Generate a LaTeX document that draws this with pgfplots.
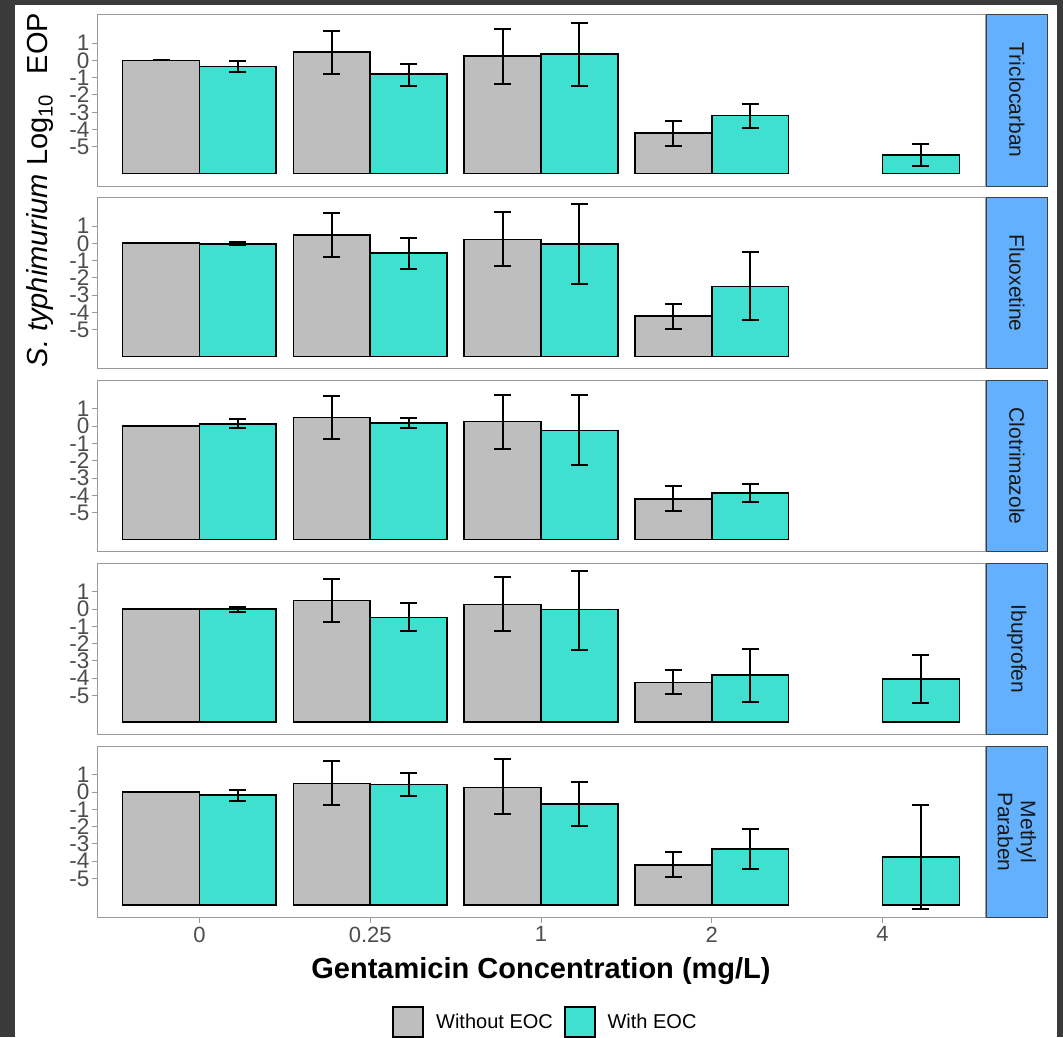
\documentclass[border=0pt]{standalone}
\usepackage{pgfplots}
\pgfplotsset{compat=1.18}
\usepackage{pgfplotstable}
\usepackage{fontspec}
\setmainfont{Liberation Sans}
\definecolor{barGrey}{HTML}{BEBEBE}
\definecolor{barTurq}{HTML}{40E0D0}
\definecolor{stripBlue}{HTML}{63B0FF}
\definecolor{frameDark}{HTML}{3A3A3A}
\definecolor{panelGrey}{HTML}{9A9A9A}
\definecolor{axisText}{HTML}{4D4D4D}

% columns: x = category index (0,0.25,1,2,4), v = log10 EOP, hi/lo = error bar ends
\pgfplotstableread{
x v hi lo
0 0 0 0
1 0.50 1.72 -0.77
2 0.27 1.83 -1.35
3 -4.22 -3.52 -4.96
}\triWithout
\pgfplotstableread{
x v hi lo
0 -0.35 -0.06 -0.65
1 -0.78 -0.19 -1.46
2 0.37 2.18 -1.46
3 -3.19 -2.54 -3.90
4 -5.48 -4.85 -6.12
}\triWith
\pgfplotstableread{
x v hi lo
0 0 0 0
1 0.50 1.77 -0.77
2 0.23 1.81 -1.34
3 -4.21 -3.50 -4.94
}\fluWithout
\pgfplotstableread{
x v hi lo
0 -0.02 0.07 -0.10
1 -0.55 0.29 -1.46
2 -0.02 2.25 -2.33
3 -2.50 -0.52 -4.46
}\fluWith
\pgfplotstableread{
x v hi lo
0 0 0 0
1 0.50 1.77 -0.71
2 0.27 1.83 -1.34
3 -4.23 -3.48 -4.92
}\cloWithout
\pgfplotstableread{
x v hi lo
0 0.15 0.44 -0.13
1 0.20 0.50 -0.13
2 -0.25 1.83 -2.27
3 -3.88 -3.36 -4.40
}\cloWith
\pgfplotstableread{
x v hi lo
0 0 0 0
1 0.50 1.77 -0.77
2 0.27 1.88 -1.29
3 -4.24 -3.50 -4.92
}\ibuWithout
\pgfplotstableread{
x v hi lo
0 0.00 0.15 -0.15
1 -0.48 0.33 -1.29
2 -0.02 2.23 -2.39
3 -3.82 -2.33 -5.38
4 -4.05 -2.67 -5.44
}\ibuWith
\pgfplotstableread{
x v hi lo
0 0 0 0
1 0.50 1.77 -0.77
2 0.27 1.89 -1.29
3 -4.23 -3.48 -4.92
}\metWithout
\pgfplotstableread{
x v hi lo
0 -0.19 0.10 -0.54
1 0.44 1.08 -0.25
2 -0.71 0.56 -1.98
3 -3.31 -2.15 -4.46
4 -3.77 -0.77 -6.77
}\metWith

\pgfplotsset{
  panel/.style={
    scale only axis, width=888pt, height=171.5pt,
    anchor=north west,
    xmin=-0.6, xmax=4.6, ymin=-0.72, ymax=9.21,
    axis line style={draw=panelGrey, line width=1pt},
    ytick={1.55,2.55,3.55,4.55,5.55,6.55,7.55},
    yticklabels={-5,-4,-3,-2,-1,0,1},
    tick align=outside, ytick pos=left, xtick pos=bottom,
    major tick length=5pt,
    tick style={draw=panelGrey, line width=1pt},
    yticklabel style={font=\fontsize{22.5}{22}\selectfont, text=axisText, inner sep=2.5pt},
    xticklabel style={font=\fontsize{22}{22}\selectfont, text=axisText, inner sep=4pt},
    legend image code/.code={\draw[##1] (0pt,-15pt) rectangle (30pt,15pt);},
  },
  eopbar/.style={ybar, bar width=0.45, bar shift=0pt, draw=black, line width=1.7pt, fill=#1},
  eoperr/.style={
    error bars/y dir=both, error bars/y explicit,
    error bars/error bar style={line width=2pt, black},
    error bars/error mark options={rotate=90, mark size=8.5pt, line width=2pt, black},
  },
}
\newcommand{\eoppair}[2]{%
  \addplot[eopbar=barGrey, eoperr] table[x expr=\thisrow{x}-0.225, y expr=\thisrow{v}+6.55,
    y error plus expr=\thisrow{hi}-\thisrow{v}, y error minus expr=\thisrow{v}-\thisrow{lo}] {#1};
  \addplot[eopbar=barTurq, eoperr] table[x expr=\thisrow{x}+0.225, y expr=\thisrow{v}+6.55,
    y error plus expr=\thisrow{hi}-\thisrow{v}, y error minus expr=\thisrow{v}-\thisrow{lo}] {#2};
}

\begin{document}
\begin{tikzpicture}
\useasboundingbox (0pt,0pt) rectangle (1063pt,-1037pt);
\fill[frameDark] (0pt,0pt) rectangle (1063pt,-1037pt);
\fill[white] (15pt,-4.5pt) rectangle (1056.5pt,-1037pt);

\begin{axis}[panel, at={(97pt,-14.5pt)}, xtick=\empty]
\eoppair{\triWithout}{\triWith}
\end{axis}
\begin{axis}[panel, at={(97pt,-197.4pt)}, xtick=\empty]
\eoppair{\fluWithout}{\fluWith}
\end{axis}
\begin{axis}[panel, at={(97pt,-380.3pt)}, xtick=\empty]
\eoppair{\cloWithout}{\cloWith}
\end{axis}
\begin{axis}[panel, at={(97pt,-563.2pt)}, xtick=\empty]
\eoppair{\ibuWithout}{\ibuWith}
\end{axis}
\begin{axis}[panel, at={(97pt,-746.1pt)},
  xtick={0,1,2,3,4}, xticklabels={0,0.25,1,2,4},
  legend columns=2,
  legend style={at={(0.5056,-0.608)}, anchor=center, draw=none, fill=none,
    font=\fontsize{20}{24}\selectfont, nodes={inner sep=3pt},
    /tikz/every odd column/.style={column sep=9pt},
    /tikz/every even column/.style={column sep=8pt}},
]
\eoppair{\metWithout}{\metWith}
\legend{Without EOC, With EOC}
\end{axis}

% facet strips
\foreach \t/\lab in {14.5/Triclocarban, 197.4/Fluoxetine, 380.3/Clotrimazole, 563.2/Ibuprofen}{
  \draw[fill=stripBlue, draw=black!75, line width=1pt] (986.5pt,{-\t*1pt}) rectangle (1047pt,{-(\t+171.5)*1pt});
  \node[rotate=-90, font=\fontsize{21}{24}\selectfont, text=black!90] at (1016.75pt,{-(\t+85.75)*1pt}) {\lab};
}
\draw[fill=stripBlue, draw=black!75, line width=1pt] (986.5pt,-746.1pt) rectangle (1047pt,-917.6pt);
\node[rotate=-90, font=\fontsize{21}{23}\selectfont, text=black!90, align=center] at (1016.75pt,-831.85pt) {Methyl\\Paraben};

% axis titles
\node[rotate=90, anchor=base, font=\fontsize{29}{32}\selectfont] at (47pt,-190pt)
  {\textit{S. typhimurium} Log\textsubscript{10}\hspace{0.7em}EOP};
\node[anchor=base, font=\fontsize{29}{32}\selectfont\bfseries] at (541pt,-978pt)
  {Gentamicin Concentration (mg/L)};
\end{tikzpicture}
\end{document}
